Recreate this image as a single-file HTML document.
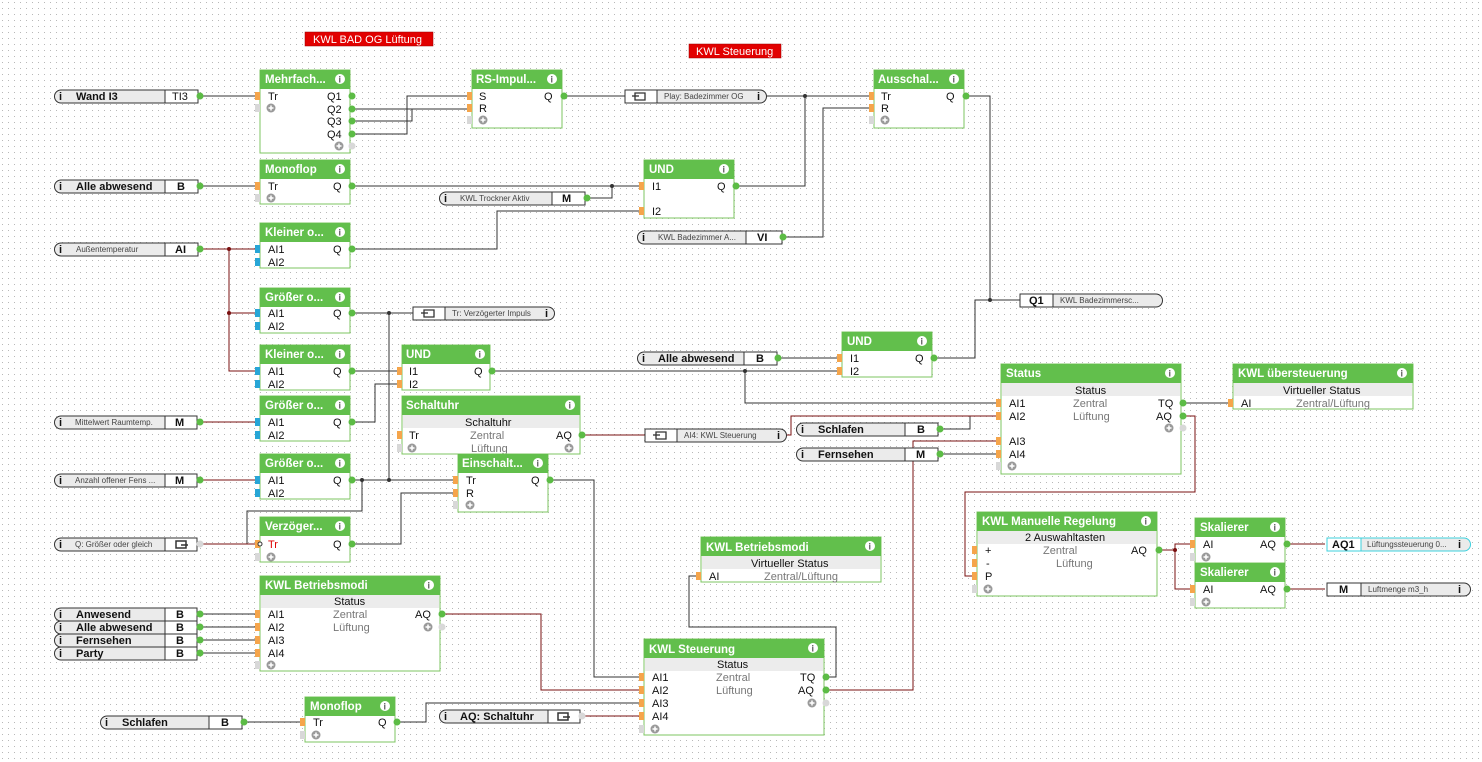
<!DOCTYPE html>
<html><head><meta charset="utf-8"><style>
html,body{margin:0;padding:0;background:#fff}
svg{display:block}
text{font-family:"Liberation Sans",Arial,sans-serif;font-size:11px;fill:#111}
.t{font-weight:bold;font-size:11.5px;fill:#fff}
.g{fill:#777}
.s{font-size:8px;fill:#444}
.b{font-weight:bold;font-size:11px}
.w{stroke:#333;stroke-width:1;fill:none}
.r{stroke:#7a1010;stroke-width:1;fill:none}
.hd{fill:#62bf4c}
.bx{fill:#fff;stroke:#7cc560;stroke-width:1}
.sub{fill:#ececec}
.po{fill:#f5a54b}
.pc{fill:#27a6d6}
.pg{fill:#d8d8d8}
.od{fill:#5cbc45}
.pl{fill:#ebebeb;stroke:#333;stroke-width:1}
</style></head><body>
<svg width="1482" height="762" viewBox="0 0 1482 762" xmlns="http://www.w3.org/2000/svg">
<defs>
<pattern id="dots" width="6" height="6" patternUnits="userSpaceOnUse"><rect x="2" y="2" width="1" height="1" fill="#b8b8b8"/></pattern>
<g id="ic"><circle r="5" fill="#fff"/><text x="-1.5" y="3.5" style="font-size:9px;font-weight:bold;fill:#5a5a5a">i</text></g>
<g id="pl"><circle r="4.5" fill="#9a9a9a"/><path d="M-2.5 0H2.5M0 -2.5V2.5" stroke="#fff" stroke-width="1.5"/></g>
</defs>
<rect width="1482" height="762" fill="url(#dots)"/>

<!-- red labels -->
<rect x="305" y="32" width="128" height="14" fill="#e20000" stroke="#900" stroke-width="0.5"/>
<text x="313" y="43" style="fill:#fff;font-size:11px">KWL BAD OG Lüftung</text>
<rect x="689" y="44" width="92" height="14" fill="#e20000" stroke="#900" stroke-width="0.5"/>
<text x="696" y="55" style="fill:#fff;font-size:11px">KWL Steuerung</text>

<!-- WIRES -->
<g class="w">
<path d="M200 96H258"/>
<path d="M352 109H470"/>
<path d="M352 121H412V109"/>
<path d="M352 134H407V96H470"/>
<path d="M564 96H625"/>
<path d="M766 96H872"/>
<path d="M736 186H805V96"/>
<path d="M782 237H823V108H872"/>
<path d="M966 96H990V300H1020"/>
<path d="M934 358H975V300H990"/>
<path d="M200 186H258"/>
<path d="M352 186H642"/>
<path d="M586 198H612V186"/>
<path d="M352 249H497V211H642"/>
<path d="M352 313H413"/>
<path d="M389 313V480"/>
<path d="M352 371H400"/>
<path d="M352 422H375V384H400"/>
<path d="M492 371H840"/>
<path d="M745 371V403H999"/>
<path d="M777 358H840"/>
<path d="M352 480H456"/>
<path d="M362 480V511H247V544"/>
<path d="M352 544H401V493H456"/>
<path d="M550 480H594V677H642"/>
<path d="M397 722H426V703H642"/>
<path d="M826 677H836V627H689V576H699"/>
<path d="M938 429H970V416"/>
<path d="M938 454H999"/>
<path d="M1183 403H1231"/>
<path d="M200 614H258M200 627H258M200 640H258M200 653H258"/>
<path d="M242 722H303"/>
</g>
<g class="r">
<path d="M200 249H258"/>
<path d="M229 249V371H258M229 313H258"/>
<path d="M200 422H258"/>
<path d="M200 480H258"/>
<path d="M200 544H258"/>
<path d="M582 435H645"/>
<path d="M442 614H541V690H642"/>
<path d="M580 716H642"/>
<path d="M786 435H791V416H999"/>
<path d="M826 690H913V441H999"/>
<path d="M1183 416H1195V492H965V576H975"/>
<path d="M1159 550H1175V544H1193M1175 550V589H1193"/>
<path d="M1287 544H1325M1287 589H1325"/>
</g>
<g fill="#333">
<circle cx="990" cy="300" r="2"/><circle cx="805" cy="96" r="2"/><circle cx="612" cy="186" r="2"/>
<circle cx="389" cy="313" r="2"/><circle cx="389" cy="480" r="2"/><circle cx="362" cy="480" r="2"/><circle cx="745" cy="371" r="2"/><circle cx="970" cy="429" r="0"/>
</g>
<g fill="#7a1010"><circle cx="229" cy="249" r="2"/><circle cx="229" cy="313" r="2"/><circle cx="1175" cy="550" r="2"/></g>

<!-- BLOCKS -->
<!-- Mehrfach -->
<rect class="bx" x="260" y="70" width="90" height="83"/><rect class="hd" x="260" y="70" width="90" height="19"/>
<text class="t" x="265" y="83">Mehrfach...</text><use href="#ic" x="340" y="79"/>
<rect class="po" x="255" y="92" width="5" height="8"/><rect class="pg" x="255" y="104" width="5" height="8"/>
<text x="268" y="100">Tr</text><use href="#pl" x="271" y="108"/>
<text x="327" y="100">Q1</text><text x="327" y="113">Q2</text><text x="327" y="125">Q3</text><text x="327" y="138">Q4</text>
<use href="#pl" x="339" y="146"/>
<circle class="od" cx="352" cy="96" r="3.5"/><circle class="od" cx="352" cy="109" r="3.5"/><circle class="od" cx="352" cy="121" r="3.5"/><circle class="od" cx="352" cy="134" r="3.5"/><circle class="pg" cx="352" cy="146" r="3.5"/>

<!-- RS -->
<rect class="bx" x="472" y="70" width="90" height="58"/><rect class="hd" x="472" y="70" width="90" height="19"/>
<text class="t" x="476" y="83">RS-Impul...</text><use href="#ic" x="552" y="79"/>
<rect class="po" x="467" y="92" width="5" height="8"/><rect class="po" x="467" y="104" width="5" height="8"/><rect class="pg" x="467" y="116" width="5" height="8"/>
<text x="479" y="100">S</text><text x="479" y="112">R</text><use href="#pl" x="483" y="120"/><text x="544" y="100">Q</text>
<circle class="od" cx="564" cy="96" r="3.5"/>

<!-- Ausschal -->
<rect class="bx" x="874" y="70" width="90" height="58"/><rect class="hd" x="874" y="70" width="90" height="19"/>
<text class="t" x="878" y="83">Ausschal...</text><use href="#ic" x="954" y="79"/>
<rect class="po" x="869" y="92" width="5" height="8"/><rect class="po" x="869" y="104" width="5" height="8"/><rect class="pg" x="869" y="116" width="5" height="8"/>
<text x="881" y="100">Tr</text><text x="881" y="112">R</text><use href="#pl" x="885" y="120"/><text x="946" y="100">Q</text>
<circle class="od" cx="966" cy="96" r="3.5"/>

<!-- Monoflop -->
<rect class="bx" x="260" y="160" width="90" height="44"/><rect class="hd" x="260" y="160" width="90" height="19"/>
<text class="t" x="265" y="173">Monoflop</text><use href="#ic" x="340" y="169"/>
<rect class="po" x="255" y="182" width="5" height="8"/><rect class="pg" x="255" y="194" width="5" height="8"/>
<text x="268" y="190">Tr</text><use href="#pl" x="271" y="198"/><text x="333" y="190">Q</text>
<circle class="od" cx="352" cy="186" r="3.5"/>

<!-- UND1 -->
<rect class="bx" x="644" y="160" width="90" height="58"/><rect class="hd" x="644" y="160" width="90" height="19"/>
<text class="t" x="649" y="173">UND</text><use href="#ic" x="724" y="169"/>
<rect class="po" x="639" y="182" width="5" height="8"/><rect class="po" x="639" y="207" width="5" height="8"/>
<text x="652" y="190">I1</text><text x="652" y="215">I2</text><text x="717" y="190">Q</text>
<circle class="od" cx="736" cy="186" r="3.5"/>

<!-- Kleiner1 -->
<rect class="bx" x="260" y="223" width="90" height="45"/><rect class="hd" x="260" y="223" width="90" height="19"/>
<text class="t" x="265" y="236">Kleiner o...</text><use href="#ic" x="340" y="232"/>
<rect class="pc" x="255" y="245" width="5" height="8"/><rect class="pc" x="255" y="258" width="5" height="8"/>
<text x="268" y="253">AI1</text><text x="268" y="266">AI2</text><text x="333" y="253">Q</text>
<circle class="od" cx="352" cy="249" r="3.5"/>

<!-- Größer1 -->
<rect class="bx" x="260" y="288" width="90" height="45"/><rect class="hd" x="260" y="288" width="90" height="19"/>
<text class="t" x="265" y="301">Größer o...</text><use href="#ic" x="340" y="297"/>
<rect class="pc" x="255" y="309" width="5" height="8"/><rect class="pc" x="255" y="322" width="5" height="8"/>
<text x="268" y="317">AI1</text><text x="268" y="330">AI2</text><text x="333" y="317">Q</text>
<circle class="od" cx="352" cy="313" r="3.5"/>

<!-- Kleiner2 -->
<rect class="bx" x="260" y="345" width="90" height="45"/><rect class="hd" x="260" y="345" width="90" height="19"/>
<text class="t" x="265" y="358">Kleiner o...</text><use href="#ic" x="340" y="354"/>
<rect class="pc" x="255" y="367" width="5" height="8"/><rect class="pc" x="255" y="380" width="5" height="8"/>
<text x="268" y="375">AI1</text><text x="268" y="388">AI2</text><text x="333" y="375">Q</text>
<circle class="od" cx="352" cy="371" r="3.5"/>

<!-- UND2 -->
<rect class="bx" x="402" y="345" width="88" height="45"/><rect class="hd" x="402" y="345" width="88" height="19"/>
<text class="t" x="406" y="358">UND</text><use href="#ic" x="480" y="354"/>
<rect class="po" x="397" y="367" width="5" height="8"/><rect class="po" x="397" y="380" width="5" height="8"/>
<text x="409" y="375">I1</text><text x="409" y="388">I2</text><text x="474" y="375">Q</text>
<circle class="od" cx="492" cy="371" r="3.5"/>

<!-- Größer3 -->
<rect class="bx" x="260" y="396" width="90" height="45"/><rect class="hd" x="260" y="396" width="90" height="19"/>
<text class="t" x="265" y="409">Größer o...</text><use href="#ic" x="340" y="405"/>
<rect class="pc" x="255" y="418" width="5" height="8"/><rect class="pc" x="255" y="431" width="5" height="8"/>
<text x="268" y="426">AI1</text><text x="268" y="439">AI2</text><text x="333" y="426">Q</text>
<circle class="od" cx="352" cy="422" r="3.5"/>

<!-- Schaltuhr -->
<rect class="bx" x="402" y="396" width="178" height="58"/><rect class="hd" x="402" y="396" width="178" height="19"/>
<text class="t" x="406" y="409">Schaltuhr</text><use href="#ic" x="570" y="405"/>
<rect class="sub" x="403" y="415" width="176" height="13"/><text x="465" y="426">Schaltuhr</text>
<rect class="po" x="397" y="431" width="5" height="8"/><rect class="pg" x="397" y="444" width="5" height="8"/>
<text x="409" y="439">Tr</text><text class="g" x="470" y="439">Zentral</text><text x="556" y="439">AQ</text>
<use href="#pl" x="412" y="448"/><text class="g" x="471" y="452">Lüftung</text><use href="#pl" x="569" y="448"/>
<circle class="od" cx="582" cy="435" r="3.5"/>

<!-- Größer4 -->
<rect class="bx" x="260" y="454" width="90" height="45"/><rect class="hd" x="260" y="454" width="90" height="19"/>
<text class="t" x="265" y="467">Größer o...</text><use href="#ic" x="340" y="463"/>
<rect class="pc" x="255" y="476" width="5" height="8"/><rect class="pc" x="255" y="489" width="5" height="8"/>
<text x="268" y="484">AI1</text><text x="268" y="497">AI2</text><text x="333" y="484">Q</text>
<circle class="od" cx="352" cy="480" r="3.5"/>

<!-- Einschalt -->
<rect class="bx" x="458" y="454" width="90" height="58"/><rect class="hd" x="458" y="454" width="90" height="19"/>
<text class="t" x="462" y="467">Einschalt...</text><use href="#ic" x="538" y="463"/>
<rect class="po" x="453" y="476" width="5" height="8"/><rect class="po" x="453" y="489" width="5" height="8"/><rect class="pg" x="453" y="501" width="5" height="8"/>
<text x="466" y="484">Tr</text><text x="466" y="497">R</text><use href="#pl" x="470" y="505"/><text x="531" y="484">Q</text>
<circle class="od" cx="550" cy="480" r="3.5"/>

<!-- Verzöger -->
<rect class="bx" x="260" y="517" width="90" height="45"/><rect class="hd" x="260" y="517" width="90" height="19"/>
<text class="t" x="265" y="530">Verzöger...</text><use href="#ic" x="340" y="526"/>
<rect class="po" x="255" y="540" width="5" height="8"/><rect class="pg" x="255" y="553" width="5" height="8"/>
<circle cx="260" cy="544" r="2" fill="#fff" stroke="#333"/>
<text x="268" y="548" style="fill:#d00">Tr</text><use href="#pl" x="271" y="557"/><text x="333" y="548">Q</text>
<circle class="od" cx="352" cy="544" r="3.5"/>

<!-- KWL Betriebsmodi left -->
<rect class="bx" x="260" y="576" width="180" height="95"/><rect class="hd" x="260" y="576" width="180" height="19"/>
<text class="t" x="265" y="589">KWL Betriebsmodi</text><use href="#ic" x="429" y="585"/>
<rect class="sub" x="261" y="595" width="178" height="13"/><text x="334" y="605">Status</text>
<rect class="po" x="255" y="610" width="5" height="8"/><rect class="po" x="255" y="623" width="5" height="8"/><rect class="po" x="255" y="636" width="5" height="8"/><rect class="po" x="255" y="649" width="5" height="8"/><rect class="pg" x="255" y="661" width="5" height="8"/>
<text x="268" y="618">AI1</text><text x="268" y="631">AI2</text><text x="268" y="644">AI3</text><text x="268" y="657">AI4</text><use href="#pl" x="271" y="665"/>
<text class="g" x="333" y="618">Zentral</text><text class="g" x="333" y="631">Lüftung</text>
<text x="415" y="618">AQ</text><use href="#pl" x="428" y="627"/>
<circle class="od" cx="442" cy="614" r="3.5"/><circle class="pg" cx="442" cy="627" r="3.5"/>

<!-- Monoflop2 -->
<rect class="bx" x="305" y="697" width="90" height="45"/><rect class="hd" x="305" y="697" width="90" height="19"/>
<text class="t" x="310" y="710">Monoflop</text><use href="#ic" x="385" y="706"/>
<rect class="po" x="300" y="718" width="5" height="8"/><rect class="pg" x="300" y="731" width="5" height="8"/>
<text x="313" y="726">Tr</text><use href="#pl" x="316" y="735"/><text x="378" y="726">Q</text>
<circle class="od" cx="397" cy="722" r="3.5"/>

<!-- UND3 -->
<rect class="bx" x="842" y="332" width="90" height="45"/><rect class="hd" x="842" y="332" width="90" height="19"/>
<text class="t" x="847" y="345">UND</text><use href="#ic" x="922" y="341"/>
<rect class="po" x="837" y="354" width="5" height="8"/><rect class="po" x="837" y="367" width="5" height="8"/>
<text x="850" y="362">I1</text><text x="850" y="375">I2</text><text x="915" y="362">Q</text>
<circle class="od" cx="934" cy="358" r="3.5"/>

<!-- Status -->
<rect class="bx" x="1001" y="364" width="180" height="110"/><rect class="hd" x="1001" y="364" width="180" height="19"/>
<text class="t" x="1006" y="377">Status</text><use href="#ic" x="1170" y="373"/>
<rect class="sub" x="1002" y="383" width="178" height="13"/><text x="1075" y="394">Status</text>
<rect class="po" x="996" y="399" width="5" height="8"/><rect class="po" x="996" y="412" width="5" height="8"/><rect class="po" x="996" y="437" width="5" height="8"/><rect class="po" x="996" y="450" width="5" height="8"/><rect class="pg" x="996" y="462" width="5" height="8"/>
<text x="1009" y="407">AI1</text><text x="1009" y="420">AI2</text><text x="1009" y="445">AI3</text><text x="1009" y="458">AI4</text><use href="#pl" x="1012" y="466"/>
<text class="g" x="1073" y="407">Zentral</text><text class="g" x="1073" y="420">Lüftung</text>
<text x="1158" y="407">TQ</text><text x="1156" y="420">AQ</text><use href="#pl" x="1169" y="428"/>
<circle class="od" cx="1183" cy="403" r="3.5"/><circle class="od" cx="1183" cy="416" r="3.5"/><circle class="pg" cx="1183" cy="428" r="3.5"/>

<!-- KWL übersteuerung -->
<rect class="bx" x="1233" y="364" width="180" height="45"/><rect class="hd" x="1233" y="364" width="180" height="19"/>
<text class="t" x="1238" y="377">KWL übersteuerung</text><use href="#ic" x="1402" y="373"/>
<rect class="sub" x="1234" y="383" width="178" height="13"/><text x="1283" y="394">Virtueller Status</text>
<rect class="po" x="1228" y="399" width="5" height="8"/><text x="1241" y="407">AI</text><text class="g" x="1296" y="407">Zentral/Lüftung</text>

<!-- KWL Manuelle Regelung -->
<rect class="bx" x="977" y="512" width="180" height="84"/><rect class="hd" x="977" y="512" width="180" height="19"/>
<text class="t" x="982" y="525">KWL Manuelle Regelung</text><use href="#ic" x="1146" y="521"/>
<rect class="sub" x="978" y="531" width="178" height="13"/><text x="1025" y="541">2 Auswahltasten</text>
<rect class="po" x="972" y="546" width="5" height="8"/><rect class="po" x="972" y="559" width="5" height="8"/><rect class="po" x="972" y="572" width="5" height="8"/><rect class="pg" x="972" y="585" width="5" height="8"/>
<text x="985" y="554">+</text><text x="986" y="567">-</text><text x="985" y="580">P</text><use href="#pl" x="988" y="589"/>
<text class="g" x="1043" y="554">Zentral</text><text class="g" x="1056" y="567">Lüftung</text><text x="1131" y="554">AQ</text>
<circle class="od" cx="1159" cy="550" r="3.5"/>

<!-- Skalierer 1 -->
<rect class="bx" x="1195" y="518" width="90" height="45"/><rect class="hd" x="1195" y="518" width="90" height="19"/>
<text class="t" x="1200" y="531">Skalierer</text><use href="#ic" x="1275" y="527"/>
<rect class="po" x="1190" y="540" width="5" height="8"/><rect class="pg" x="1190" y="553" width="5" height="8"/>
<text x="1203" y="548">AI</text><use href="#pl" x="1206" y="557"/><text x="1260" y="548">AQ</text>
<circle class="od" cx="1287" cy="544" r="3.5"/>
<!-- Skalierer 2 -->
<rect class="bx" x="1195" y="563" width="90" height="45"/><rect class="hd" x="1195" y="563" width="90" height="19"/>
<text class="t" x="1200" y="576">Skalierer</text><use href="#ic" x="1275" y="572"/>
<rect class="po" x="1190" y="585" width="5" height="8"/><rect class="pg" x="1190" y="598" width="5" height="8"/>
<text x="1203" y="593">AI</text><use href="#pl" x="1206" y="602"/><text x="1260" y="593">AQ</text>
<circle class="od" cx="1287" cy="589" r="3.5"/>

<!-- KWL Betriebsmodi right -->
<rect class="bx" x="701" y="537" width="180" height="45"/><rect class="hd" x="701" y="537" width="180" height="19"/>
<text class="t" x="706" y="551">KWL Betriebsmodi</text><use href="#ic" x="870" y="546"/>
<rect class="sub" x="702" y="556" width="178" height="13"/><text x="751" y="567">Virtueller Status</text>
<rect class="po" x="696" y="572" width="5" height="8"/><text x="709" y="580">AI</text><text class="g" x="764" y="580">Zentral/Lüftung</text>

<!-- KWL Steuerung -->
<rect class="bx" x="644" y="639" width="180" height="96"/><rect class="hd" x="644" y="639" width="180" height="19"/>
<text class="t" x="649" y="653">KWL Steuerung</text><use href="#ic" x="813" y="648"/>
<rect class="sub" x="645" y="658" width="178" height="13"/><text x="717" y="668">Status</text>
<rect class="po" x="639" y="673" width="5" height="8"/><rect class="po" x="639" y="686" width="5" height="8"/><rect class="po" x="639" y="699" width="5" height="8"/><rect class="po" x="639" y="712" width="5" height="8"/><rect class="pg" x="639" y="725" width="5" height="8"/>
<text x="652" y="681">AI1</text><text x="652" y="694">AI2</text><text x="652" y="707">AI3</text><text x="652" y="720">AI4</text><use href="#pl" x="655" y="729"/>
<text class="g" x="716" y="681">Zentral</text><text class="g" x="716" y="694">Lüftung</text>
<text x="800" y="681">TQ</text><text x="798" y="694">AQ</text><use href="#pl" x="812" y="703"/>
<circle class="od" cx="826" cy="677" r="3.5"/><circle class="od" cx="826" cy="690" r="3.5"/><circle class="pg" cx="826" cy="703" r="3.5"/>

<!-- INPUT PILLS -->
<g>
<path class="pl" d="M61 90H198V103H61A6.5 6.5 0 0 1 61 90Z"/><rect x="165" y="90" width="33" height="13" fill="#fff" stroke="#333"/>
<text x="59" y="100" class="b">i</text><text x="76" y="100" class="b">Wand I3</text><text x="172" y="100">TI3</text>
<circle class="od" cx="200" cy="96" r="3.5"/>

<path class="pl" d="M61 180H198V193H61A6.5 6.5 0 0 1 61 180Z"/><rect x="165" y="180" width="33" height="13" fill="#fff" stroke="#333"/>
<text x="59" y="190" class="b">i</text><text x="76" y="190" class="b">Alle abwesend</text><text x="177" y="190" class="b">B</text>
<circle class="od" cx="200" cy="186" r="3.5"/>

<path class="pl" d="M61 243H198V256H61A6.5 6.5 0 0 1 61 243Z"/><rect x="165" y="243" width="33" height="13" fill="#fff" stroke="#333"/>
<text x="59" y="253" class="b">i</text><text x="76" y="252" class="s">Außentemperatur</text><text x="175" y="253" class="b">AI</text>
<circle class="od" cx="200" cy="249" r="3.5"/>

<path class="pl" d="M61 416H197V429H61A6.5 6.5 0 0 1 61 416Z"/><rect x="165" y="416" width="32" height="13" fill="#fff" stroke="#333"/>
<text x="59" y="426" class="b">i</text><text x="75" y="425" class="s">Mittelwert Raumtemp.</text><text x="175" y="426" class="b">M</text>
<circle class="od" cx="200" cy="422" r="3.5"/>

<path class="pl" d="M61 474H197V487H61A6.5 6.5 0 0 1 61 474Z"/><rect x="165" y="474" width="32" height="13" fill="#fff" stroke="#333"/>
<text x="59" y="484" class="b">i</text><text x="75" y="483" class="s">Anzahl  offener  Fens ...</text><text x="175" y="484" class="b">M</text>
<circle class="od" cx="200" cy="480" r="3.5"/>

<path class="pl" d="M61 538H197V551H61A6.5 6.5 0 0 1 61 538Z"/><rect x="165" y="538" width="32" height="13" fill="#fff" stroke="#333"/>
<text x="59" y="548" class="b">i</text><text x="75" y="547" class="s">Q: Größer oder gleich</text>
<path d="M176 541H186V548H176Z" fill="none" stroke="#333" stroke-width="1.5"/><path d="M181 545H188" stroke="#333" stroke-width="1.5"/>
<circle class="pg" cx="200" cy="544" r="3.5"/>

<path class="pl" d="M61 608H197V621H61A6.5 6.5 0 0 1 61 608Z"/><rect x="165" y="608" width="32" height="13" fill="#fff" stroke="#333"/>
<path class="pl" d="M61 621H197V634H61A6.5 6.5 0 0 1 61 621Z"/><rect x="165" y="621" width="32" height="13" fill="#fff" stroke="#333"/>
<path class="pl" d="M61 634H197V647H61A6.5 6.5 0 0 1 61 634Z"/><rect x="165" y="634" width="32" height="13" fill="#fff" stroke="#333"/>
<path class="pl" d="M61 647H197V660H61A6.5 6.5 0 0 1 61 647Z"/><rect x="165" y="647" width="32" height="13" fill="#fff" stroke="#333"/>
<text x="59" y="618" class="b">i</text><text x="76" y="618" class="b">Anwesend</text><text x="176" y="618" class="b">B</text>
<text x="59" y="631" class="b">i</text><text x="76" y="631" class="b">Alle abwesend</text><text x="176" y="631" class="b">B</text>
<text x="59" y="644" class="b">i</text><text x="76" y="644" class="b">Fernsehen</text><text x="176" y="644" class="b">B</text>
<text x="59" y="657" class="b">i</text><text x="76" y="657" class="b">Party</text><text x="176" y="657" class="b">B</text>
<circle class="od" cx="200" cy="614" r="3.5"/><circle class="od" cx="200" cy="627" r="3.5"/><circle class="od" cx="200" cy="640" r="3.5"/><circle class="od" cx="200" cy="653" r="3.5"/>

<path class="pl" d="M107 716H242V729H107A6.5 6.5 0 0 1 107 716Z"/><rect x="209" y="716" width="33" height="13" fill="#fff" stroke="#333"/>
<text x="105" y="726" class="b">i</text><text x="122" y="726" class="b">Schlafen</text><text x="221" y="726" class="b">B</text>
<circle class="od" cx="244" cy="722" r="3.5"/>

<!-- mid pills -->
<path class="pl" d="M446 192H585V205H446A6.5 6.5 0 0 1 446 192Z"/><rect x="552" y="192" width="33" height="13" fill="#fff" stroke="#333"/>
<text x="444" y="202" class="b">i</text><text x="460" y="201" class="s">KWL Trockner Aktiv</text><text x="562" y="202" class="b">M</text>
<circle class="od" cx="587" cy="198" r="3.5"/>

<path class="pl" d="M644 231H782V244H644A6.5 6.5 0 0 1 644 231Z"/><rect x="746" y="231" width="36" height="13" fill="#fff" stroke="#333"/>
<text x="642" y="241" class="b">i</text><text x="658" y="240" class="s">KWL  Badezimmer  A...</text><text x="757" y="241" class="b">VI</text>
<circle class="od" cx="783" cy="237" r="3.5"/>

<path class="pl" d="M644 352H777V365H644A6.5 6.5 0 0 1 644 352Z"/><rect x="744" y="352" width="33" height="13" fill="#fff" stroke="#333"/>
<text x="642" y="362" class="b">i</text><text x="658" y="362" class="b">Alle abwesend</text><text x="756" y="362" class="b">B</text>
<circle class="od" cx="778" cy="358" r="3.5"/>

<path class="pl" d="M803 423H938V436H803A6.5 6.5 0 0 1 803 423Z"/><rect x="905" y="423" width="33" height="13" fill="#fff" stroke="#333"/>
<text x="801" y="433" class="b">i</text><text x="818" y="433" class="b">Schlafen</text><text x="917" y="433" class="b">B</text>
<circle class="od" cx="940" cy="429" r="3.5"/>

<path class="pl" d="M803 448H938V461H803A6.5 6.5 0 0 1 803 448Z"/><rect x="905" y="448" width="33" height="13" fill="#fff" stroke="#333"/>
<text x="801" y="458" class="b">i</text><text x="818" y="458" class="b">Fernsehen</text><text x="916" y="458" class="b">M</text>
<circle class="od" cx="940" cy="454" r="3.5"/>

<path class="pl" d="M446 710H580V723H446A6.5 6.5 0 0 1 446 710Z"/><rect x="548" y="710" width="32" height="13" fill="#fff" stroke="#333"/>
<text x="444" y="720" class="b">i</text><text x="460" y="720" class="b">AQ: Schaltuhr</text>
<path d="M558 713H568V720H558Z" fill="none" stroke="#333" stroke-width="1.5"/><path d="M563 717H570" stroke="#333" stroke-width="1.5"/>
<circle class="pg" cx="582" cy="716" r="3.5"/>

<!-- output pills -->
<path class="pl" d="M625 90H760A6.5 6.5 0 0 1 760 103H625Z"/><rect x="625" y="90" width="32" height="13" fill="#fff" stroke="#333"/>
<path d="M635 93H645V100H635Z" fill="none" stroke="#333" stroke-width="1.3"/><path d="M632 96H639" stroke="#333" stroke-width="1.3"/>
<text x="664" y="99" class="s">Play: Badezimmer OG</text><text x="757" y="100" class="b">i</text>

<path class="pl" d="M413 307H548A6.5 6.5 0 0 1 548 320H413Z"/><rect x="413" y="307" width="32" height="13" fill="#fff" stroke="#333"/>
<path d="M424 310H434V317H424Z" fill="none" stroke="#333" stroke-width="1.3"/><path d="M421 313H428" stroke="#333" stroke-width="1.3"/>
<text x="452" y="316" class="s">Tr: Verzögerter Impuls</text><text x="545" y="317" class="b">i</text>

<path class="pl" d="M645 429H780A6.5 6.5 0 0 1 780 442H645Z"/><rect x="645" y="429" width="32" height="13" fill="#fff" stroke="#333"/>
<path d="M656 432H666V439H656Z" fill="none" stroke="#333" stroke-width="1.3"/><path d="M653 435H660" stroke="#333" stroke-width="1.3"/>
<text x="684" y="438" class="s">AI4: KWL Steuerung</text><text x="777" y="439" class="b">i</text>

<path class="pl" d="M1020 294H1156A6.5 6.5 0 0 1 1156 307H1020Z"/><rect x="1020" y="294" width="33" height="13" fill="#fff" stroke="#333"/>
<text x="1029" y="304" class="b">Q1</text><text x="1060" y="303" class="s">KWL  Badezimmersc...</text>

<path d="M1327 538H1464A6.5 6.5 0 0 1 1464 551H1327Z" fill="#ebebeb" stroke="#3dd0dd"/><rect x="1327" y="538" width="34" height="13" fill="#fff" stroke="#3dd0dd"/>
<text x="1332" y="548" class="b">AQ1</text><text x="1367" y="547" class="s">Lüftungssteuerung  0...</text><text x="1458" y="548" class="b">i</text>

<path class="pl" d="M1327 583H1464A6.5 6.5 0 0 1 1464 596H1327Z"/><rect x="1327" y="583" width="34" height="13" fill="#fff" stroke="#333"/>
<text x="1339" y="593" class="b">M</text><text x="1368" y="592" class="s">Luftmenge m3_h</text><text x="1458" y="593" class="b">i</text>
</g>
</svg>
</body></html>
